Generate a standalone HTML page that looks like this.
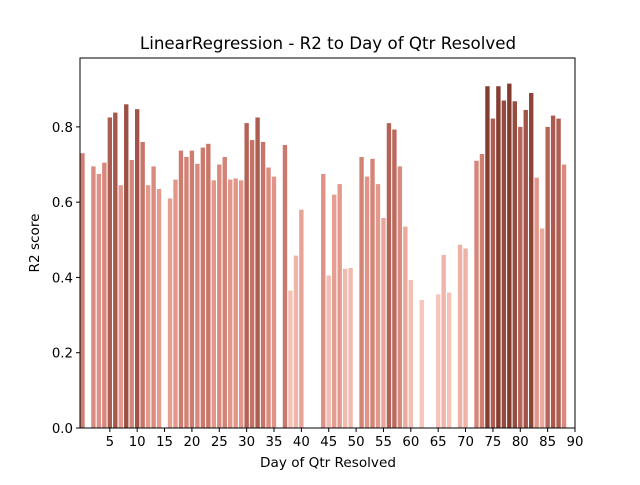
<!DOCTYPE html>
<html><head><meta charset="utf-8"><style>
body{margin:0;background:#fff;}
svg text{font-family:"DejaVu Sans","Liberation Sans",sans-serif;fill:#000;}
</style></head><body>
<svg id="chart" width="640" height="480" xmlns="http://www.w3.org/2000/svg">
<rect width="640" height="480" fill="#fff"/>
<text x="328" y="49" font-size="16.7" text-anchor="middle">LinearRegression - R2 to Day of Qtr Resolved</text>
<g id="bars"></g>
<g id="axes"></g>
<text x="328" y="467" font-size="13.6" text-anchor="middle">Day of Qtr Resolved</text>
<text x="0" y="0" font-size="13.6" text-anchor="middle" transform="translate(39,243) rotate(-90)">R2 score</text>
</svg>
<script>
const days=[0,2,3,4,5,6,7,8,9,10,11,12,13,14,16,17,18,19,20,21,22,23,24,25,26,27,28,29,30,31,32,33,34,35,37,38,39,40,44,45,46,47,48,49,51,52,53,54,55,56,57,58,59,60,62,65,66,67,69,70,72,73,74,75,76,77,78,79,80,81,82,83,84,85,86,87,88];
const scores=[0.73,0.695,0.675,0.705,0.825,0.838,0.645,0.86,0.712,0.847,0.76,0.645,0.695,0.635,0.61,0.66,0.737,0.72,0.737,0.702,0.745,0.755,0.658,0.70,0.72,0.66,0.663,0.658,0.81,0.765,0.825,0.76,0.692,0.668,0.752,0.365,0.458,0.58,0.675,0.405,0.62,0.648,0.423,0.425,0.72,0.668,0.715,0.648,0.558,0.81,0.793,0.695,0.535,0.393,0.34,0.355,0.46,0.36,0.487,0.477,0.71,0.728,0.908,0.822,0.908,0.87,0.915,0.868,0.80,0.845,0.89,0.665,0.53,0.80,0.83,0.822,0.70];
const xTicks=[5,10,15,20,25,30,35,40,45,50,55,60,65,70,75,80,85,90];
const yTicks=[0.0,0.2,0.4,0.6,0.8];
const NS="http://www.w3.org/2000/svg";
const L=80,R=575,T=58,B=428,xmin=-0.45,xmax=90,ymax=0.983;
const xs=v=>L+(v-xmin)/(xmax-xmin)*(R-L);
const ys=v=>B-v/ymax*(B-T);
const bars=document.getElementById('bars'),axes=document.getElementById('axes');
const mn=Math.min(...scores),mx=Math.max(...scores);
const stops=[[0,[246,198,188]],[0.55,[228,152,140]],[0.75,[198,112,100]],[1,[130,58,47]]];
function col(v){const t=(v-mn)/(mx-mn);let i=0;while(i<stops.length-2&&t>stops[i+1][0])i++;
const [t0,a]=stops[i],[t1,b]=stops[i+1];const u=Math.max(0,Math.min(1,(t-t0)/(t1-t0)));
return 'rgb('+a.map((c,k)=>Math.round(c+(b[k]-c)*u)).join(',')+')';}
function mk(tag,at){const e=document.createElementNS(NS,tag);for(const k in at)e.setAttribute(k,at[k]);return e;}
const clip=mk('clipPath',{id:'pc'});clip.appendChild(mk('rect',{x:L,y:T,width:R-L,height:B-T}));
document.getElementById('chart').appendChild(clip);
bars.setAttribute('clip-path','url(#pc)');
days.forEach((d,i)=>{const x0=xs(d-0.4),x1=xs(d+0.4);
const r=mk('rect',{x:x0,y:ys(scores[i]),width:x1-x0,height:B-ys(scores[i]),fill:col(scores[i])});


bars.appendChild(r);});
const frame=mk('rect',{x:L,y:T,width:R-L,height:B-T,fill:'none',stroke:'#000','stroke-width':1});


axes.appendChild(frame);
xTicks.forEach(t=>{const x=xs(t);axes.appendChild(mk('line',{x1:x,x2:x,y1:B,y2:B+4,stroke:'#000'}));
const tx=mk('text',{x:x,y:B+18,'font-size':13.3,'text-anchor':'middle'});tx.textContent=t;


axes.appendChild(tx);});
yTicks.forEach(t=>{const y=ys(t);axes.appendChild(mk('line',{x1:L-4,x2:L,y1:y,y2:y,stroke:'#000'}));
const tx=mk('text',{x:L-7,y:y+5,'font-size':13.3,'text-anchor':'end'});tx.textContent=t.toFixed(1);


axes.appendChild(tx);});
</script>
</body></html>
